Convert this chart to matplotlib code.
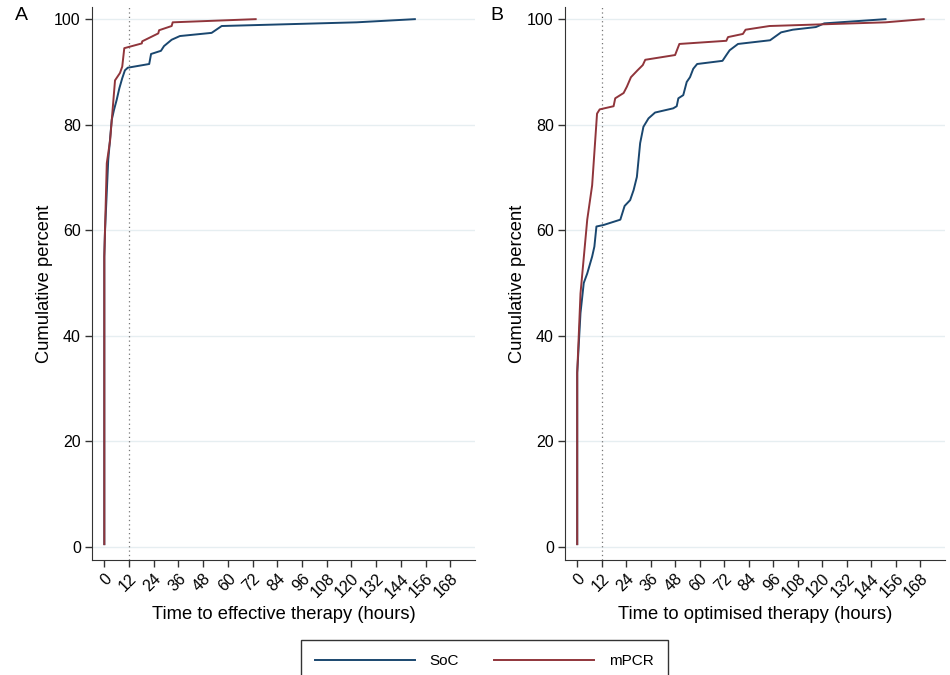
import numpy as np
import matplotlib.pyplot as plt

plt.rcParams['font.family'] = ['Liberation Sans', 'DejaVu Sans']

# Panel A: time to effective therapy (hours) vs cumulative percent
a_soc_hours = [0, 0, 0.3, 1.9, 3.6, 4.7, 6.0, 7.3, 8.7, 10.0, 11.4, 21.8, 22.7,
               27.5, 29.0, 32.7, 36.7, 52.1, 57.0, 122.5, 150.8]
a_soc_pct = [0.5, 55, 59.5, 73.3, 80.9, 82.8, 84.7, 86.9, 88.8, 90.3, 90.8, 91.5, 93.4,
             94.0, 94.9, 96.1, 96.8, 97.4, 98.7, 99.4, 100]
a_mpcr_hours = [0, 0, 0.3, 1.2, 2.8, 5.2, 7.6, 8.7, 9.7, 18.2, 18.4, 26.2, 26.6,
                32.7, 33.2, 73.5]
a_mpcr_pct = [0.5, 55, 59.5, 72.7, 77.0, 88.4, 89.8, 91.0, 94.5, 95.4, 95.8, 97.3, 97.9,
              98.7, 99.4, 100]

# Panel B: time to optimised therapy (hours)
b_soc_hours = [0, 0, 1.6, 3.2, 4.9, 7.3, 8.4, 9.4, 13.0, 21.1, 23.2, 25.9, 27.6, 29.2,
               30.8, 32.4, 34.9, 38.1, 47.0, 48.7, 49.5, 51.9, 53.6, 55.2, 56.8, 58.7,
               71.1, 73.0, 74.6, 78.7, 94.4, 99.8, 105.5, 116.8, 120.9, 150.9]
b_soc_pct = [0.5, 33, 44.3, 50.0, 51.8, 55.0, 56.9, 60.7, 61.0, 62.0, 64.6, 65.7, 67.6, 70.1,
             76.5, 79.6, 81.2, 82.3, 83.1, 83.5, 85.0, 85.6, 88.1, 89.0, 90.6, 91.5,
             92.1, 93.2, 94.1, 95.3, 96.0, 97.5, 98.0, 98.5, 99.2, 100]
b_mpcr_hours = [0, 0, 1.6, 4.9, 7.3, 9.7, 11.0, 17.8, 18.6, 22.7, 24.3, 26.3, 29.5, 32.1,
                33.3, 47.9, 50.0, 73.0, 73.8, 81.1, 82.4, 94.1, 150.9, 169.6]
b_mpcr_pct = [0.5, 33, 48.0, 62.0, 68.5, 82.1, 82.9, 83.5, 85.0, 86.0, 87.2, 89.0, 90.3, 91.3,
              92.3, 93.2, 95.3, 95.9, 96.6, 97.2, 98.0, 98.7, 99.4, 100]

x_ticks = np.arange(0, 169, 12)
y_ticks = np.arange(0, 101, 20)
soc_color = '#1a476f'
mpcr_color = '#90353b'

fig = plt.figure(figsize=(9.5, 6.75), dpi=100)
ax_a = fig.add_axes([0.0968, 0.1704, 0.4032, 0.8192])
ax_b = fig.add_axes([0.5947, 0.1704, 0.4, 0.8192])

panels = [
    (ax_a, 'A', 'Time to effective therapy (hours)',
     a_soc_hours, a_soc_pct, a_mpcr_hours, a_mpcr_pct),
    (ax_b, 'B', 'Time to optimised therapy (hours)',
     b_soc_hours, b_soc_pct, b_mpcr_hours, b_mpcr_pct),
]

for ax, letter, xlab, sh, sp, mh, mp in panels:
    ax.plot(sh, sp, color=soc_color, lw=1.4, label='SoC', zorder=3)
    ax.plot(mh, mp, color=mpcr_color, lw=1.4, label='mPCR', zorder=3)
    ax.axvline(12, color='#777777', lw=0.9, ls=(0, (1, 2.5)), zorder=2)
    ax.set_xlim(-6, 180)
    ax.set_ylim(-2.5, 102.3)
    ax.set_xticks(x_ticks)
    ax.set_yticks(y_ticks)
    ax.set_xticklabels([str(t) for t in x_ticks], rotation=45, ha='right',
                       rotation_mode='anchor')
    ax.tick_params(direction='out', length=5, width=1, labelsize=11.5,
                   color='#333333', pad=3)
    ax.grid(axis='y', color='#e6eef1', lw=1)
    ax.set_axisbelow(True)
    for s in ['top', 'right']:
        ax.spines[s].set_visible(False)
    for s in ['left', 'bottom']:
        ax.spines[s].set_color('#333333')
    ax.set_xlabel(xlab, fontsize=13.2, labelpad=4)
    ax.set_ylabel('Cumulative percent', fontsize=13.2, labelpad=1)
    ax.text(-0.2 if letter == 'A' else -0.195, 0.985, letter, transform=ax.transAxes,
            fontsize=14, va='center', ha='left')

handles, labels = ax_a.get_legend_handles_labels()
leg = fig.legend(handles, labels, loc='upper center', bbox_to_anchor=(0.51, 0.0625),
                 ncol=2, fontsize=11, handlelength=6.5, handletextpad=1.0,
                 columnspacing=2.3, borderpad=0.9, fancybox=False, edgecolor='#333333',
                 framealpha=1)
leg.get_frame().set_linewidth(1)

fig.savefig('out.png', dpi=100)
